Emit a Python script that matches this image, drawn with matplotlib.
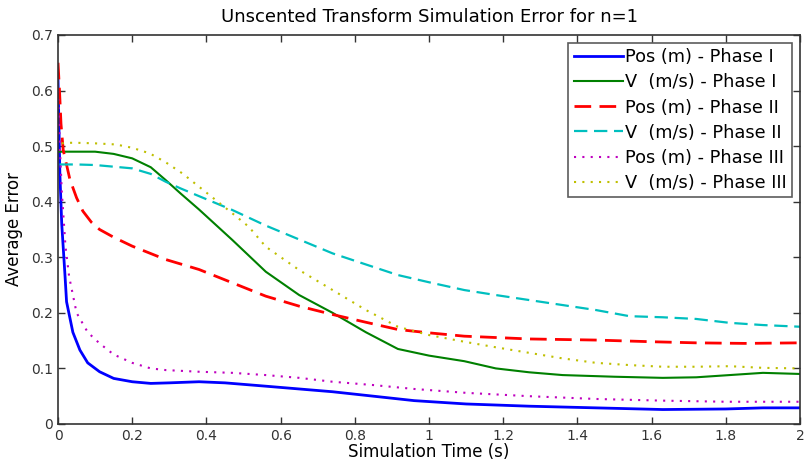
import numpy as np
import matplotlib
matplotlib.use("Agg")
import matplotlib.pyplot as plt
from matplotlib.ticker import FormatStrFormatter

# values (time in s, average error)
pos1_t = [0, 0.005, 0.01, 0.019, 0.023, 0.04, 0.059, 0.08, 0.112, 0.15, 0.2, 0.25, 0.3, 0.38, 0.45,
          0.56, 0.65, 0.74, 0.85, 0.96, 1.1, 1.27, 1.45, 1.63, 1.8, 1.9, 2.0]
pos1_e = [0.62, 0.45, 0.36, 0.265, 0.22, 0.165, 0.133, 0.11, 0.094, 0.082, 0.076, 0.073, 0.074, 0.076, 0.074,
          0.068, 0.063, 0.058, 0.05, 0.042, 0.036, 0.032, 0.029, 0.026, 0.027, 0.029, 0.029]

vel1_t = [0, 0.004, 0.05, 0.1, 0.15, 0.2, 0.25, 0.29, 0.33, 0.38, 0.47, 0.56, 0.65, 0.74, 0.83, 0.916,
          1.0, 1.095, 1.18, 1.27, 1.36, 1.5, 1.63, 1.72, 1.81, 1.9, 2.0]
vel1_e = [0.49, 0.49, 0.49, 0.49, 0.486, 0.478, 0.462, 0.439, 0.415, 0.386, 0.331, 0.274, 0.232, 0.2, 0.165, 0.135,
          0.123, 0.113, 0.1, 0.093, 0.088, 0.085, 0.083, 0.084, 0.088, 0.092, 0.09]

pos2_t = [0, 0.004, 0.008, 0.014, 0.032, 0.05, 0.067, 0.09, 0.112, 0.15, 0.2, 0.29, 0.38, 0.47, 0.56, 0.65,
          0.74, 0.83, 0.916, 1.0, 1.095, 1.27, 1.45, 1.6, 1.72, 1.85, 2.0]
pos2_e = [0.65, 0.6, 0.54, 0.493, 0.44, 0.407, 0.383, 0.363, 0.35, 0.336, 0.32, 0.296, 0.278, 0.254, 0.23, 0.212,
          0.197, 0.183, 0.17, 0.164, 0.158, 0.153, 0.151, 0.148, 0.146, 0.145, 0.146]

vel2_t = [0.004, 0.05, 0.1, 0.15, 0.2, 0.25, 0.29, 0.33, 0.38, 0.47, 0.56, 0.65, 0.74, 0.83, 0.916, 1.0,
          1.095, 1.18, 1.27, 1.36, 1.45, 1.54, 1.63, 1.72, 1.81, 1.9, 2.0]
vel2_e = [0.467, 0.467, 0.466, 0.463, 0.46, 0.45, 0.436, 0.424, 0.41, 0.385, 0.357, 0.332, 0.307, 0.287, 0.268, 0.255,
          0.241, 0.232, 0.223, 0.214, 0.205, 0.194, 0.192, 0.189, 0.182, 0.178, 0.175]

pos3_t = [0, 0.005, 0.01, 0.02, 0.03, 0.05, 0.08, 0.112, 0.15, 0.2, 0.25, 0.29, 0.38, 0.47, 0.56, 0.65,
          0.74, 0.85, 0.96, 1.1, 1.27, 1.45, 1.63, 1.8, 2.0]
pos3_e = [0.6, 0.5, 0.42, 0.32, 0.265, 0.2, 0.165, 0.145, 0.125, 0.11, 0.1, 0.097, 0.094, 0.092, 0.088, 0.083,
          0.076, 0.07, 0.063, 0.056, 0.05, 0.045, 0.042, 0.04, 0.04]

vel3_t = [0.01, 0.03, 0.05, 0.1, 0.156, 0.2, 0.247, 0.29, 0.335, 0.38, 0.425, 0.47, 0.514, 0.56, 0.65, 0.74,
          0.83, 0.916, 1.0, 1.095, 1.18, 1.27, 1.36, 1.45, 1.54, 1.63, 1.72, 1.81, 1.9, 2.0]
vel3_e = [0.505, 0.506, 0.506, 0.505, 0.503, 0.497, 0.487, 0.471, 0.451, 0.427, 0.403, 0.379, 0.355, 0.319, 0.277, 0.241,
          0.205, 0.175, 0.16, 0.148, 0.138, 0.128, 0.118, 0.11, 0.106, 0.103, 0.103, 0.104, 0.101, 0.1]

labels = ["Pos (m) - Phase I", "V  (m/s) - Phase I", "Pos (m) - Phase II",
          "V  (m/s) - Phase II", "Pos (m) - Phase III", "V  (m/s) - Phase III"]

fig = plt.figure(figsize=(8.07, 4.69), dpi=100)
ax = fig.add_axes([0.0719, 0.096, 0.9195, 0.8294])

ax.plot(pos1_t, pos1_e, color="#0000ff", lw=2.0, ls="-", label=labels[0])
ax.plot(vel1_t, vel1_e, color="#008000", lw=1.5, ls="-", label=labels[1])
ax.plot(pos2_t, pos2_e, color="#ff0000", lw=2.0, ls=(0, (6, 3)), label=labels[2])
ax.plot(vel2_t, vel2_e, color="#00bfbf", lw=1.6, ls=(0, (6, 3)), label=labels[3])
ax.plot(pos3_t, pos3_e, color="#bf00bf", lw=1.5, ls=(0, (1, 3)), label=labels[4])
ax.plot(vel3_t, vel3_e, color="#bfbf00", lw=1.5, ls=(0, (1, 3)), label=labels[5])

ax.set_xlim(0, 2)
ax.set_ylim(0, 0.7)
ax.set_xticks(np.arange(0, 2.01, 0.2))
ax.set_yticks(np.arange(0, 0.71, 0.1))
ax.xaxis.set_major_formatter(FormatStrFormatter("%g"))
ax.yaxis.set_major_formatter(FormatStrFormatter("%g"))
ax.tick_params(direction="in", top=True, right=True, length=5, width=1,
               labelsize=10, labelcolor="#333333", color="#333333")
for s in ax.spines.values():
    s.set_color("#333333")
    s.set_linewidth(1.2)

ax.set_title("Unscented Transform Simulation Error for n=1", fontsize=13, pad=9)
ax.set_xlabel("Simulation Time (s)", fontsize=12, labelpad=0)
ax.set_ylabel("Average Error", fontsize=12, labelpad=6)

leg = ax.legend(loc="upper right", fontsize=12.8, frameon=True, fancybox=False,
                handlelength=2.8, handletextpad=0.1, borderpad=0.3, labelspacing=0.4,
                borderaxespad=0.45)
leg.get_frame().set_edgecolor("#333333")
leg.get_frame().set_linewidth(1.2)

fig.savefig("out.png", dpi=100)
